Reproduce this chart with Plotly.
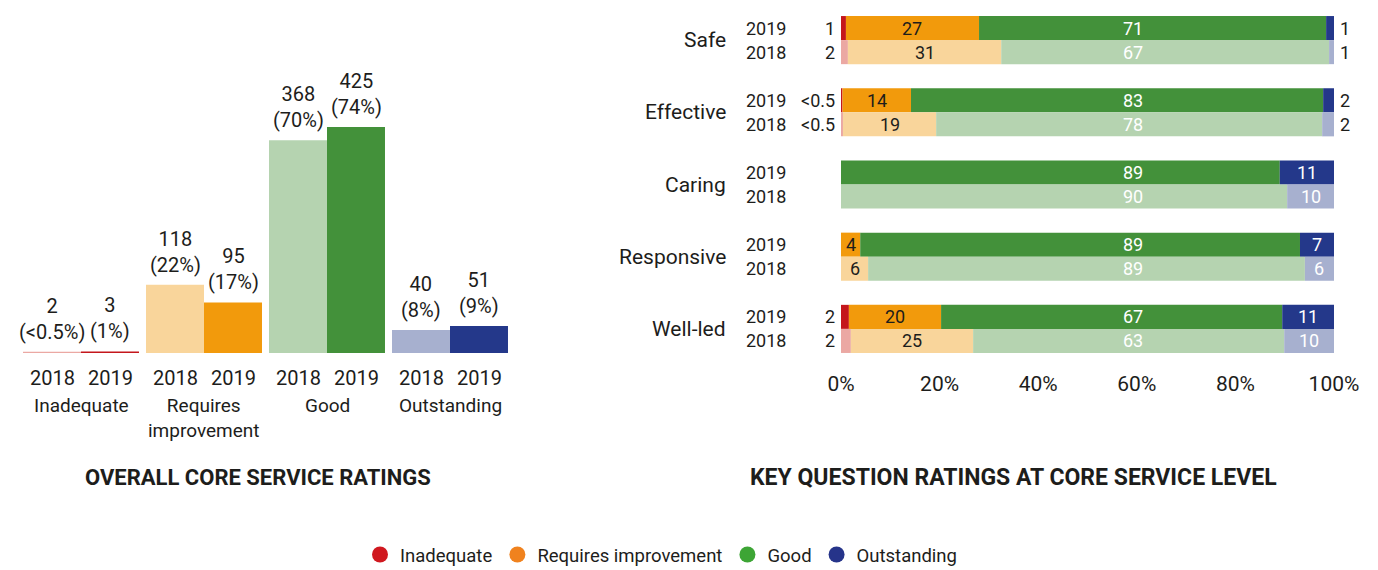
import plotly.graph_objects as go

W, H = 1378, 570
FONT = "Roboto"
TXT = "#1d1d1b"

# ---------------- Left panel: overall core service ratings ----------------
rating_names = ["Inadequate", "Requires improvement", "Good", "Outstanding"]
rating_ticks = ["Inadequate", "Requires<br>improvement", "Good", "Outstanding"]
count_2018 = [2, 118, 368, 40]
count_2019 = [3, 95, 425, 51]
share_label_2018 = ["<0.5%", "22%", "70%", "8%"]
share_label_2019 = ["1%", "17%", "74%", "9%"]

colors_2019 = ["#c4161c", "#f29a0c", "#43913a", "#24388a"]
colors_2018 = ["#eba8a3", "#f9d59b", "#b5d3b0", "#a7b0cf"]
legend_colors = ["#d0181f", "#f0821e", "#3da535", "#26348a"]

# ---------------- Right panel: key question ratings (%) ----------------
kq_names = ["Safe", "Effective", "Caring", "Responsive", "Well-led"]
inad_2019 = [1.0, 0.3, 0, 0, 1.6]
ri_2019 = [27.0, 13.9, 0, 3.9, 18.7]
good_2019 = [70.4, 83.6, 89.0, 89.2, 69.2]
out_2019 = [1.6, 2.2, 11.0, 6.9, 10.5]
inad_2018 = [1.4, 0.4, 0, 0, 2.0]
ri_2018 = [31.1, 18.9, 0, 5.5, 24.8]
good_2018 = [66.5, 78.3, 90.5, 88.6, 63.1]
out_2018 = [1.0, 2.4, 9.5, 5.9, 10.1]

inad_lbl_2019 = ["1", "<0.5", "", "", "2"]
ri_lbl_2019 = ["27", "14", "", "4", "20"]
good_lbl_2019 = ["71", "83", "89", "89", "67"]
out_lbl_2019 = ["1", "2", "11", "7", "11"]
inad_lbl_2018 = ["2", "<0.5", "", "", "2"]
ri_lbl_2018 = ["31", "19", "", "6", "25"]
good_lbl_2018 = ["67", "78", "90", "89", "63"]
out_lbl_2018 = ["1", "2", "10", "6", "10"]
pct_ticks = [0, 20, 40, 60, 80, 100]


def py(px):
    return 1 - px / H


def pxx(px):
    return px / W


fig = go.Figure()
ann = []

# ---- left bars ----
LW = 0.4715  # bar width (category units)
for year, counts, cols, lbls, off, xs in [
    ("2018", count_2018, colors_2018, share_label_2018, -LW, -29),
    ("2019", count_2019, colors_2019, share_label_2019, 0, 29),
]:
    tot = sum(counts)
    pct = [c / tot * 100 for c in counts]
    fig.add_trace(go.Bar(
        x=rating_names, y=pct, width=LW, offset=off,
        marker=dict(color=cols, line=dict(width=0)),
        xaxis="x", yaxis="y", showlegend=False, hoverinfo="skip"))
    for name, p, c, l in zip(rating_names, pct, counts, lbls):
        ann.append(dict(x=name, y=p, xref="x", yref="y", xshift=xs, yshift=6,
                        yanchor="bottom", xanchor="center", showarrow=False,
                        text=f"{c}<br>({l})", font=dict(size=20, color=TXT)))
        ann.append(dict(x=name, y=py(378), xref="x", yref="paper", xshift=xs,
                        yanchor="middle", xanchor="center", showarrow=False,
                        text=year, font=dict(size=20, color=TXT)))

for name, tick in zip(rating_names, rating_ticks):
    ann.append(dict(x=name, y=py(392), xref="x", yref="paper", yanchor="top",
                    xanchor="center", showarrow=False, text=tick,
                    font=dict(size=19, color=TXT)))

# ---- right stacked bars ----
RW = 0.3333
series_2019 = [inad_2019, ri_2019, good_2019, out_2019]
series_2018 = [inad_2018, ri_2018, good_2018, out_2018]
labels_2019 = [inad_lbl_2019, ri_lbl_2019, good_lbl_2019, out_lbl_2019]
labels_2018 = [inad_lbl_2018, ri_lbl_2018, good_lbl_2018, out_lbl_2018]

for year, series, labels, cols, off, ys in [
    ("2019", series_2019, labels_2019, colors_2019, -RW, 12),
    ("2018", series_2018, labels_2018, colors_2018, 0, -12),
]:
    base = [0.0] * len(kq_names)
    for k, (vals, lbls, col) in enumerate(zip(series, labels, cols)):
        fig.add_trace(go.Bar(
            y=kq_names, x=vals, base=list(base), orientation="h",
            width=RW, offset=off, marker=dict(color=col, line=dict(width=0)),
            xaxis="x2", yaxis="y2", showlegend=False, hoverinfo="skip"))
        for i, (name, v, l) in enumerate(zip(kq_names, vals, lbls)):
            if l == "":
                continue
            b = base[i]
            if k == 0:
                a = dict(x=0, xanchor="right", xshift=-4, color=TXT)
            elif k == 1:
                a = dict(x=b + v / 2, xanchor="center", xshift=0, color=TXT)
            elif k == 2:
                a = dict(x=59.2, xanchor="center", xshift=0, color="white")
            else:
                if v < 5:
                    a = dict(x=100, xanchor="left", xshift=4, color=TXT)
                else:
                    a = dict(x=b + v / 2, xanchor="center", xshift=0, color="white")
            ann.append(dict(x=a["x"], y=name, xref="x2", yref="y2",
                            xanchor=a["xanchor"], xshift=a["xshift"], yshift=ys,
                            yanchor="middle", showarrow=False, text=l,
                            font=dict(size=18, color=a["color"])))
        base = [bb + vv for bb, vv in zip(base, vals)]
    for name in kq_names:
        ann.append(dict(x=pxx(788), y=name, xref="paper", yref="y2",
                        xanchor="right", yanchor="middle", yshift=ys,
                        showarrow=False, text=year, font=dict(size=18, color=TXT)))

for name in kq_names:
    ann.append(dict(x=pxx(728), y=name, xref="paper", yref="y2",
                    xanchor="right", yanchor="middle", showarrow=False,
                    text=name, font=dict(size=21, color=TXT)))

# ---- titles ----
ann.append(dict(x=pxx(258), y=py(477), xref="paper", yref="paper",
                xanchor="center", yanchor="middle", showarrow=False,
                text="<b>OVERALL CORE SERVICE RATINGS</b>",
                font=dict(size=22, color=TXT)))
ann.append(dict(x=pxx(1014), y=py(477), xref="paper", yref="paper",
                xanchor="center", yanchor="middle", showarrow=False,
                text="<b>KEY QUESTION RATINGS AT CORE SERVICE LEVEL</b>",
                font=dict(size=23, color=TXT)))

# ---- legend ----
for name, col in zip(rating_names, legend_colors):
    fig.add_trace(go.Scatter(x=[None], y=[None], mode="markers", name=name,
                             marker=dict(size=20, color=col),
                             xaxis="x", yaxis="y", hoverinfo="skip"))

fig.update_layout(
    width=W, height=H,
    margin=dict(l=0, r=0, t=0, b=0, autoexpand=False),
    paper_bgcolor="white", plot_bgcolor="white",
    barmode="overlay",
    font=dict(family=FONT, color=TXT),
    showlegend=True,
    legend=dict(orientation="h", x=pxx(661), xanchor="center", y=py(555),
                yanchor="middle", font=dict(size=18.5, color=TXT),
                itemsizing="trace", bgcolor="rgba(0,0,0,0)"),
    xaxis=dict(domain=[pxx(19.5), pxx(511.5)], type="category",
               range=[-0.5, 3.5], autorange=False,
               showticklabels=False, showgrid=False, zeroline=False,
               showline=False, ticks=""),
    yaxis=dict(domain=[py(353), py(60)], range=[0, 96], autorange=False,
               showticklabels=False,
               showgrid=False, zeroline=False, showline=False, ticks=""),
    xaxis2=dict(domain=[pxx(841), pxx(1334)], anchor="y2", range=[0, 100],
                autorange=False,
                tickvals=pct_ticks, ticktext=[f"{v}%" for v in pct_ticks],
                tickfont=dict(size=21, color=TXT), showgrid=False,
                zeroline=False, showline=False, ticks="", ticklabelstandoff=4),
    yaxis2=dict(domain=[py(365), py(4)], anchor="x2", type="category",
                range=[4.5, -0.5], autorange=False, showticklabels=False,
                showgrid=False, zeroline=False, showline=False, ticks=""),
    annotations=ann,
)

fig.write_html(
    "out.html",
    config={"displayModeBar": False, "staticPlot": True},
    post_script="document.body.style.margin='0';document.body.style.overflow='hidden';",
)
